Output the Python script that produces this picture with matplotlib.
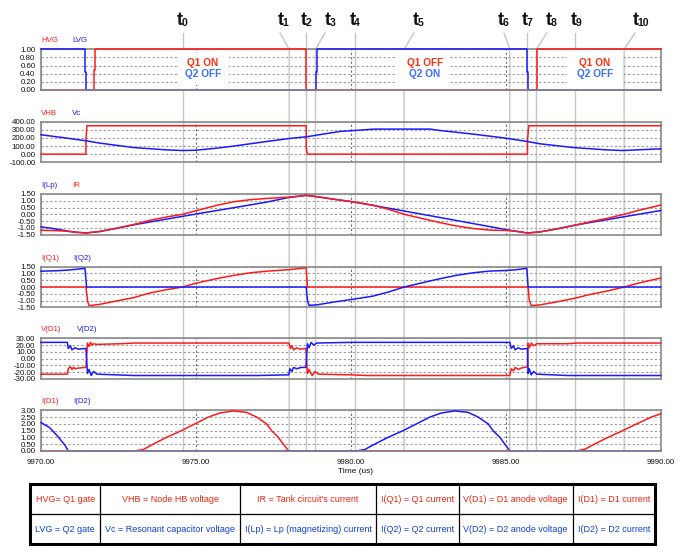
import matplotlib
matplotlib.use('Agg')
import matplotlib.pyplot as plt
from matplotlib.lines import Line2D
from matplotlib.patches import Rectangle

plt.rcParams['font.family'] = ['Liberation Sans', 'DejaVu Sans']

RED = '#ff1a1a'
BLUE = '#1a1aff'
W, H = 690, 554

# ---- gate signals
t_hvg = [9970.0, 9971.71, 9971.71, 9971.75, 9971.75, 9978.56, 9978.56, 9986.0, 9986.0, 9990.0]
hvg = [0, 0, 0.5, 0.5, 1, 1, 0, 0, 1, 1]
t_lvg = [9970.0, 9971.42, 9971.42, 9971.46, 9971.46, 9978.86, 9978.86, 9978.9, 9978.9,
         9985.69, 9985.69, 9985.72, 9985.72, 9990.0]
lvg = [1, 1, 0.45, 0.45, 0, 0, 0.45, 0.45, 1, 1, 0.45, 0.45, 0, 0]

# ---- half-bridge node and resonant capacitor voltage
t_vhb = [9970.0, 9971.45, 9971.45, 9971.48, 9978.56, 9978.56, 9978.6, 9985.7, 9985.7, 9985.74, 9990.0]
vhb = [0, 0, 165, 350, 350, 60, 0, 0, 165, 350, 350]
t_vc = [9970.0, 9970.83, 9971.45, 9971.9, 9972.98, 9974.05, 9974.57, 9975.01, 9975.67, 9976.2,
        9977.28, 9978.01, 9978.56, 9979.65, 9980.12, 9980.77, 9981.8, 9982.55, 9982.87, 9983.95,
        9984.99, 9985.7, 9986.1, 9987.17, 9988.25, 9988.78, 9989.75, 9990.0]
vc = [239, 198, 165, 136, 82, 53, 45, 49, 74, 99,
      156, 193, 214, 280, 292, 309, 309, 309, 292, 247,
      198, 156, 128, 82, 53, 45, 62, 66]

# ---- tank and magnetizing current
t_ir = [9970.0, 9970.4, 9970.83, 9971.15, 9971.45, 9971.9, 9972.4, 9972.98, 9973.5, 9974.05,
        9974.57, 9975.01, 9975.67, 9976.2, 9976.75, 9977.28, 9978.01, 9978.3, 9978.56, 9978.9,
        9979.4, 9979.97, 9980.7, 9981.2, 9981.72, 9982.3, 9982.87, 9983.4, 9983.95, 9984.5,
        9985.0, 9985.35, 9985.7, 9986.1, 9986.6, 9987.25, 9987.7, 9988.25, 9988.82, 9989.3, 9990.0]
ir = [-1.18, -1.2, -1.25, -1.33, -1.38, -1.27, -1.05, -0.76, -0.45, -0.2,
      0.0, 0.27, 0.66, 0.92, 1.08, 1.17, 1.27, 1.33, 1.40, 1.30,
      1.13, 0.95, 0.68, 0.38, 0.0, -0.31, -0.61, -0.86, -1.05, -1.17,
      -1.19, -1.26, -1.38, -1.30, -1.10, -0.80, -0.56, -0.31, 0.0, 0.30, 0.68]
t_ilp = [9970.0, 9970.3, 9970.6, 9970.88, 9971.15, 9971.45, 9971.9, 9972.4, 9973.03, 9975.0,
         9976.2, 9977.28, 9978.01, 9978.3, 9978.56, 9978.9, 9979.4, 9979.97, 9980.18, 9982.5,
         9985.13, 9985.35, 9985.7, 9986.1, 9986.6, 9987.28, 9990.0]
ilp = [-0.93, -1.02, -1.13, -1.25, -1.33, -1.38, -1.27, -1.05, -0.76, 0.02,
       0.48, 0.9, 1.25, 1.33, 1.40, 1.30, 1.13, 0.95, 0.88, -0.08,
       -1.18, -1.26, -1.38, -1.30, -1.10, -0.78, 0.28]

# ---- switch currents
t_iq1 = [9970.0, 9971.45, 9971.5, 9971.55, 9971.9, 9972.4, 9973.0, 9973.5, 9974.05, 9974.57,
         9975.0, 9975.67, 9976.2, 9976.75, 9977.3, 9978.0, 9978.5, 9978.56, 9978.6, 9985.72,
         9985.76, 9985.82, 9986.1, 9986.6, 9987.25, 9987.7, 9988.25, 9988.82, 9989.3, 9990.0]
iq1 = [0, 0, -1.0, -1.38, -1.28, -1.05, -0.78, -0.45, -0.2, 0.0,
       0.28, 0.62, 0.85, 1.05, 1.17, 1.28, 1.40, 1.40, 0, 0,
       -1.0, -1.38, -1.32, -1.12, -0.82, -0.56, -0.31, 0.0, 0.3, 0.66]
t_iq2 = [9970.0, 9970.5, 9970.88, 9971.2, 9971.42, 9971.47, 9978.56, 9978.6, 9978.65, 9978.9,
         9979.4, 9980.0, 9980.7, 9981.2, 9981.72, 9982.3, 9982.87, 9983.4, 9983.95, 9984.5,
         9985.0, 9985.35, 9985.68, 9985.72, 9990.0]
iq2 = [1.17, 1.2, 1.25, 1.32, 1.38, 0.0, 0, -1.0, -1.35, -1.32,
       -1.13, -0.93, -0.68, -0.38, 0.0, 0.31, 0.61, 0.86, 1.05, 1.18,
       1.22, 1.28, 1.38, 0, 0]

# ---- rectifier diode voltages
t_vd1 = [9970.0, 9970.85, 9970.88, 9970.95, 9971.0, 9971.05, 9971.1, 9971.2, 9971.45, 9971.5,
         9971.55, 9971.6, 9971.65, 9971.7, 9971.8, 9972.6, 9973.0, 9978.0, 9978.05, 9978.1,
         9978.15, 9978.25, 9978.35, 9978.55, 9978.6, 9978.65, 9978.75, 9978.85, 9978.95, 9980.0,
         9980.5, 9985.13, 9985.18, 9985.25, 9985.3, 9985.4, 9985.5, 9985.7, 9985.72, 9985.76,
         9985.82, 9985.9, 9986.0, 9987.0, 9987.3, 9990.0]
vd1 = [-23, -23, -15, -12, -16, -13, -15, -14, -13, 23,
       18, 24, 20, 22, 21, 22, 23, 23, 15, 19,
       13, 16, 14, 15, -22, -16, -25, -19, -23, -24,
       -25, -25, -15, -18, -13, -16, -14, -12, 23, 16,
       23, 19, 22, 22, 23, 23]
t_vd2 = [9970.0, 9970.85, 9970.88, 9970.95, 9971.0, 9971.1, 9971.2, 9971.45, 9971.5, 9971.55,
         9971.62, 9971.7, 9971.8, 9973.0, 9977.0, 9978.0, 9978.03, 9978.1, 9978.15, 9978.25,
         9978.4, 9978.55, 9978.6, 9978.65, 9978.72, 9978.8, 9978.9, 9980.0, 9985.13, 9985.18,
         9985.25, 9985.3, 9985.4, 9985.5, 9985.7, 9985.72, 9985.76, 9985.82, 9985.9, 9986.0,
         9987.0, 9990.0]
vd2 = [24, 24, 15, 19, 13, 16, 14, 15, -22, -16,
       -25, -19, -23, -25, -25, -24, -15, -19, -13, -15,
       -13, -13, 22, 16, 24, 20, 23, 24, 24, 15,
       19, 13, 16, 14, 15, -22, -15, -24, -19, -23,
       -25, -25]

# ---- rectifier diode currents
t_id1 = [9970.0, 9973.03, 9973.3, 9973.62, 9974.05, 9974.54, 9974.97, 9975.4, 9975.77, 9976.2,
         9976.63, 9976.96, 9977.28, 9977.44, 9977.66, 9977.82, 9977.99, 9987.28, 9987.55, 9987.82,
         9988.25, 9988.78, 9989.32, 9989.7, 9990.0]
id1 = [0, 0, 0.1, 0.5, 1.0, 1.5, 2.0, 2.5, 2.8, 2.95,
       2.85, 2.5, 2.0, 1.5, 1.0, 0.5, 0, 0, 0.12, 0.45,
       0.95, 1.5, 2.1, 2.5, 2.74]
t_id2 = [9970.0, 9970.29, 9970.56, 9970.77, 9970.88, 9980.18, 9980.45, 9980.77, 9981.2, 9981.69,
         9982.12, 9982.55, 9982.92, 9983.35, 9983.78, 9984.11, 9984.43, 9984.59, 9984.81, 9984.97,
         9985.13, 9990.0]
id2 = [2.1, 1.7, 1.02, 0.43, 0, 0, 0.1, 0.5, 1.0, 1.5,
       2.0, 2.5, 2.8, 2.95, 2.85, 2.5, 2.0, 1.5, 1.0, 0.5,
       0, 0]

# ---- time markers t0..t10
t_marks = [9974.57, 9978.01, 9978.56, 9978.86, 9980.12, 9981.72, 9985.13, 9985.70, 9985.99,
           9987.25, 9988.82]
mark_names = ['0', '1', '2', '3', '4', '5', '6', '7', '8', '9', '10']

legend_top = ['HVG= Q1 gate', 'VHB = Node HB voltage', "IR = Tank circuit's current",
              'I(Q1) = Q1 current', 'V(D1) = D1 anode voltage', 'I(D1) = D1 current']
legend_bottom = ['LVG = Q2 gate', 'Vc = Resonant capacitor voltage', 'I(Lp) = Lp (magnetizing) current',
                 'I(Q2) = Q2 current', 'V(D2) = D2 anode voltage', 'I(D2) = D2 current']


def fx(px):
    return px / W


def fy(py):
    return 1 - py / H


panels = [
    dict(top=49.3, lim=(0, 1), ticks=[0, 0.2, 0.4, 0.6, 0.8, 1.0],
         traces=[(t_hvg, hvg, RED), (t_lvg, lvg, BLUE)],
         names=[('HVG', RED, 41), ('LVG', BLUE, 72.7)]),
    dict(top=121.7, lim=(-100, 400), ticks=[-100, 0, 100, 200, 300, 400],
         traces=[(t_vhb, vhb, RED), (t_vc, vc, BLUE)],
         names=[('VHB', RED, 41), ('Vc', BLUE, 72)]),
    dict(top=194, lim=(-1.5, 1.5), ticks=[-1.5, -1, -0.5, 0, 0.5, 1, 1.5],
         traces=[(t_ilp, ilp, BLUE), (t_ir, ir, RED)],
         names=[('I(Lp)', BLUE, 41), ('IR', RED, 72.7)]),
    dict(top=266.7, lim=(-1.5, 1.5), ticks=[-1.5, -1, -0.5, 0, 0.5, 1, 1.5],
         traces=[(t_iq1, iq1, RED), (t_iq2, iq2, BLUE)],
         names=[('I(Q1)', RED, 41), ('I(Q2)', BLUE, 73.3)]),
    dict(top=338.3, lim=(-30, 30), ticks=[-30, -20, -10, 0, 10, 20, 30],
         traces=[(t_vd1, vd1, RED), (t_vd2, vd2, BLUE)],
         names=[('V(D1)', RED, 41), ('V(D2)', BLUE, 76.5)]),
    dict(top=410.3, lim=(0, 3), ticks=[0, 0.5, 1, 1.5, 2, 2.5, 3],
         traces=[(t_id1, id1, RED), (t_id2, id2, BLUE)],
         names=[('I(D1)', RED, 41), ('I(D2)', BLUE, 73.3)]),
]

fig = plt.figure(figsize=(6.9, 5.54), dpi=100)
fig.patch.set_facecolor('white')

left_px, right_px, panel_h = 41, 660.7, 40.6
axes = []
for i, p in enumerate(panels):
    ax = fig.add_axes([fx(left_px), fy(p['top'] + panel_h), fx(right_px - left_px), panel_h / H])
    ax.patch.set_alpha(0)
    for t, v, c in p['traces']:
        ax.plot(t, v, color=c, lw=1.1, zorder=2.6, clip_on=False)
    ax.set_xlim(9970, 9990)
    ax.set_ylim(*p['lim'])
    ax.set_yticks(p['ticks'])
    ax.set_yticklabels(['%.2f' % v for v in p['ticks']])
    ax.set_xticks([9970, 9975, 9980, 9985, 9990])
    ax.tick_params(length=0, labelsize=5.7, labelcolor='#111111', pad=4)
    ax.yaxis.grid(True, color='#9a9a9a', linestyle=(0, (2, 2)), lw=0.8)
    ax.xaxis.grid(True, color='#6e6e6e', linestyle=(0, (2, 2)), lw=0.8)
    for s in ax.spines.values():
        s.set_color('#8a8a8a')
        s.set_linewidth(1.2)
    ax.spines['bottom'].set_zorder(3)
    if i < len(panels) - 1:
        ax.set_xticklabels([])
    else:
        ax.set_xticklabels(['%.2f' % v for v in [9970, 9975, 9980, 9985, 9990]])
        ax.tick_params(axis='x', pad=6)
    for name, c, x in p['names']:
        fig.text(fx(x), fy(p['top'] - 8.5), name, color=c, fontsize=5.7, va='center', ha='left')
    axes.append(ax)

fig.text(fx(355.5), fy(471.7), 'Time (us)', fontsize=6, ha='center', va='center', color='#111111')

# switch state boxes in the gate panel
ax1 = axes[0]
states = [(9974.42, 9976.06, 9975.23, 'Q1 ON', 'Q2 OFF'),
          (9981.47, 9983.19, 9982.39, 'Q1 OFF', 'Q2 ON'),
          (9986.99, 9988.75, 9987.87, 'Q1 ON', 'Q2 OFF')]
for x0, x1, xc, s1, s2 in states:
    ax1.add_patch(Rectangle((x0, 0), x1 - x0, 1, facecolor='white', edgecolor='none', zorder=1.0))
    ax1.add_patch(Rectangle((x0, 0.12), x1 - x0, 0.78, facecolor='white', edgecolor='none', zorder=1.8))
    ax1.text(xc, 0.655, s1, color='#ff3010', fontsize=7.3, fontweight='bold', ha='center', va='center', zorder=3)
    ax1.text(xc, 0.385, s2, color='#3a6cff', fontsize=7.3, fontweight='bold', ha='center', va='center', zorder=3)

# time marker lines and labels
label_left = [176.7, 277.3, 301, 325, 349.3, 412.7, 497.3, 521.7, 545.7, 570.7, 632.7]
lead_x = [None, 280, None, 325, None, 414, 504, None, 546.7, None, 635]
ax6 = axes[-1]
for t, name, lx, ld in zip(t_marks, mark_names, label_left, lead_x):
    x_px = ax6.transData.transform((t, 0))[0]
    if ld is None:
        xs, ys = [x_px, x_px], [33, 451]
    else:
        xs, ys = [ld, x_px, x_px], [33, 49.3, 451]
    fig.add_artist(Line2D([fx(x) for x in xs], [fy(y) for y in ys], color='#c6c6c6', lw=1.0, zorder=-1))
    fig.text(fx(lx), fy(25), 't', fontsize=13, fontweight='bold', ha='left', va='baseline', color='#111111')
    fig.text(fx(lx + 5), fy(26.5), name, fontsize=7.5, fontweight='bold', ha='left', va='baseline', color='#111111')

# legend table
col_x = [30.3, 100.3, 240, 376, 458.7, 572.7, 655]
row_y = [484.3, 514.3, 544.3]
fig.add_artist(Rectangle((fx(31.5), fy(545.8)), fx(655 - 30.3), (545.8 - 485.5) / H,
                         facecolor='#777777', edgecolor='none', zorder=4))
fig.add_artist(Rectangle((fx(col_x[0]), fy(row_y[2])), fx(col_x[-1] - col_x[0]), (row_y[2] - row_y[0]) / H,
                         facecolor='white', edgecolor='black', lw=2.2, zorder=5))
fig.add_artist(Line2D([fx(col_x[0]), fx(col_x[-1])], [fy(row_y[1])] * 2, color='black', lw=0.9, zorder=6))
for x in col_x[1:-1]:
    fig.add_artist(Line2D([fx(x)] * 2, [fy(row_y[0]), fy(row_y[2])], color='black', lw=0.9, zorder=6))
for i in range(6):
    xc = (col_x[i] + col_x[i + 1]) / 2
    fig.text(fx(xc), fy(500), legend_top[i], color='#f0240e', fontsize=6.5, ha='center', va='center', zorder=7)
    fig.text(fx(xc), fy(529.3), legend_bottom[i], color='#1040d8', fontsize=6.5, ha='center', va='center', zorder=7)

fig.savefig('out.png', dpi=100, facecolor='white')
